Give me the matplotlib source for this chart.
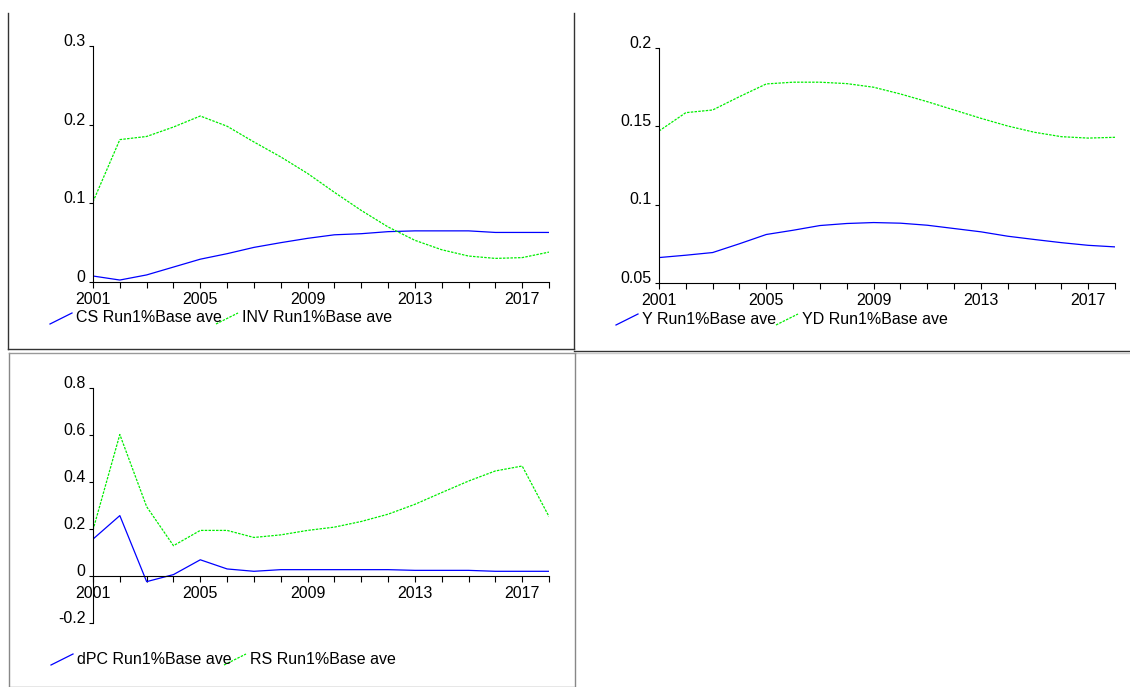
import matplotlib.pyplot as plt
from matplotlib.lines import Line2D
import numpy as np

plt.rcParams['font.family'] = ['Liberation Sans', 'DejaVu Sans']
plt.rcParams['font.size'] = 11.5

years = np.arange(2001, 2019)
year_ticks = [2001, 2005, 2009, 2013, 2017]

cs = [0.0076, 0.0025, 0.009, 0.019, 0.029, 0.036, 0.044, 0.050, 0.0555,
      0.060, 0.0614, 0.064, 0.065, 0.065, 0.065, 0.063, 0.063, 0.063]
inv = [0.102, 0.181, 0.185, 0.197, 0.211, 0.198, 0.178, 0.159, 0.138,
       0.114, 0.091, 0.070, 0.053, 0.041, 0.033, 0.030, 0.031, 0.038]

y_out = [0.0662, 0.0677, 0.0694, 0.075, 0.0809, 0.0836, 0.0866, 0.0879, 0.0885,
         0.0881, 0.0868, 0.0847, 0.0826, 0.0798, 0.0777, 0.0757, 0.074, 0.073]
yd = [0.1468, 0.1585, 0.1602, 0.1687, 0.1768, 0.1779, 0.1779, 0.177, 0.1747,
      0.1704, 0.1655, 0.1602, 0.1549, 0.150, 0.146, 0.1432, 0.1423, 0.1428]

dpc = [0.157, 0.257, -0.024, 0.006, 0.069, 0.030, 0.020, 0.027, 0.027,
       0.027, 0.027, 0.027, 0.024, 0.024, 0.024, 0.020, 0.020, 0.020]
rs = [0.196, 0.602, 0.295, 0.129, 0.194, 0.194, 0.164, 0.175, 0.194,
      0.208, 0.232, 0.263, 0.305, 0.355, 0.404, 0.447, 0.468, 0.253]

W, H = 1130, 687
BLUE = '#0000ff'
GREEN = '#00ee00'

fig = plt.figure(figsize=(W / 100, H / 100), dpi=100)


def px_axes(left, top, right, bottom):
    """Add axes given pixel edges of the plotting box"""
    return fig.add_axes([left / W, 1 - bottom / H, (right - left) / W, (bottom - top) / H])


def fig_line(xs, ys, color='#333333', lw=1.0, **kw):
    """Draw a line on the figure in pixel coordinates"""
    fig.add_artist(Line2D([x / W for x in xs], [1 - y / H for y in ys],
                          color=color, lw=lw, transform=fig.transFigure, **kw))


def panel(ax, s1, s2, ylim, yticks, ylabels):
    ax.plot(years, s1, color=BLUE, lw=0.9)
    ax.plot(years, s2, color=GREEN, lw=0.9, linestyle=(0, (2, 1)))
    ax.set_xlim(2001, 2018)
    ax.set_ylim(*ylim)
    for side in ['top', 'right']:
        ax.spines[side].set_visible(False)
    for side in ['left', 'bottom']:
        ax.spines[side].set_linewidth(0.8)
    ax.set_xticks(year_ticks)
    ax.set_xticks(years, minor=True)
    ax.set_yticks(yticks)
    ax.set_yticklabels(ylabels)
    ax.tick_params(axis='x', which='both', direction='out', length=4.5, width=0.8, pad=3)
    ax.tick_params(axis='y', direction='out', length=3, width=0.8, pad=2.5)
    for lab in ax.get_yticklabels():
        lab.set_verticalalignment('baseline')
    ax.patch.set_visible(False)


def legend(y, x1, name1, x2, name2):
    fig_line([x1, x1 + 22], [y + 6, y - 5], color=BLUE, lw=0.9)
    fig.text((x1 + 26) / W, 1 - y / H, name1, va='center', ha='left')
    fig_line([x2, x2 + 22], [y + 6, y - 5], color=GREEN, lw=0.9, linestyle=(0, (2, 1)))
    fig.text((x2 + 26) / W, 1 - y / H, name2, va='center', ha='left')


# panel frames
fig_line([8, 8], [13, 349])
fig_line([8, 574], [349, 349])
fig_line([574, 574], [13, 349])
fig_line([574, 1130], [351, 351])
fig_line([574, 1130], [353, 353], color='#cccccc')
fig_line([9, 575, 575], [687, 687, 353], color='#888888')
fig_line([9, 9], [353, 687], color='#888888')
fig_line([9, 575], [353, 353], color='#999999')

# CS and INV
ax1 = px_axes(93, 46, 549, 282)
panel(ax1, cs, inv, (0, 0.3), [0, 0.1, 0.2, 0.3], ['0', '0.1', '0.2', '0.3'])
legend(318, 50, 'CS Run1%Base ave', 216, 'INV Run1%Base ave')

# Y and YD
ax2 = px_axes(659, 47.5, 1115, 283)
panel(ax2, y_out, yd, (0.05, 0.2), [0.05, 0.1, 0.15, 0.2], ['0.05', '0.1', '0.15', '0.2'])
legend(319, 616, 'Y Run1%Base ave', 776, 'YD Run1%Base ave')

# dPC and RS
ax3 = px_axes(93, 388, 549, 623)
panel(ax3, dpc, rs, (-0.2, 0.8), [-0.2, 0, 0.2, 0.4, 0.6, 0.8],
      ['-0.2', '0', '0.2', '0.4', '0.6', '0.8'])
ax3.spines['bottom'].set_position(('data', 0))
legend(659, 51, 'dPC Run1%Base ave', 224, 'RS Run1%Base ave')

plt.savefig('out.png', dpi=100)
plt.close()
